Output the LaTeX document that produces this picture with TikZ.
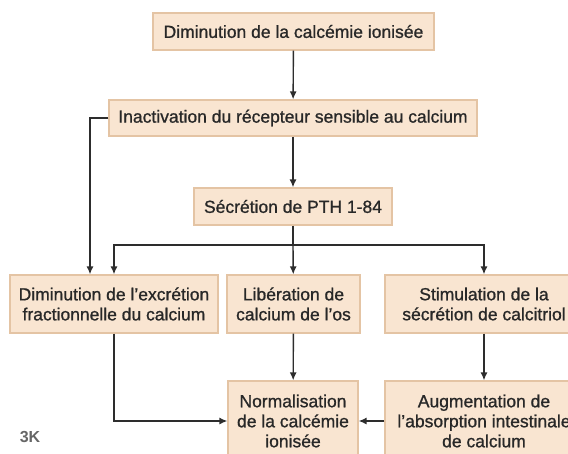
\documentclass[tikz,border=0pt]{standalone}
\usepackage{fontspec}
\setmainfont{Liberation Sans}
\usetikzlibrary{arrows.meta}
\definecolor{boxfill}{RGB}{249,229,209}
\definecolor{boxline}{RGB}{228,196,164}
\definecolor{linegray}{RGB}{45,45,45}
\definecolor{textgray}{RGB}{40,40,40}

\begin{document}
\begin{tikzpicture}[x=1pt, y=-1pt,
    box/.style = {draw = boxline, fill = boxfill, line width = 1.2pt, align = center, text = textgray,
                  inner sep = 0pt, font = \fontsize{17.5}{20}\selectfont\addfontfeature{FakeBold=1}},
    link/.style = {draw = linegray, line width = 1.4pt, -{Latex[length = 8pt, width = 7pt]}}]%
    \useasboundingbox (0, 0) rectangle (568, 453);
    \clip (0, 0) rectangle (568, 453);
    \node[box, minimum width = 281, minimum height = 37] (baisse) at (293.5, 31.5) {Diminution de la calcémie ionisée};
    \node[box, minimum width = 368, minimum height = 36] (inact) at (293, 118) {Inactivation du récepteur sensible au calcium};
    \node[box, minimum width = 198, minimum height = 37] (pth) at (293, 206.5) {Sécrétion de PTH 1-84};
    \coordinate (fork) at (293, 245);
    \node[box, minimum width = 208, minimum height = 58] (excr) at (114, 304) {Diminution de l'excrétion\\fractionnelle du calcium};
    \node[box, minimum width = 133, minimum height = 58] (os) at (293.5, 304) {Libération de\\calcium de l'os};
    \node[box, minimum width = 198, minimum height = 58] (calcitriol) at (484, 304) {Stimulation de la\\sécrétion de calcitriol};
    \node[box, minimum width = 130, minimum height = 80] (norm) at (293, 421) {Normalisation\\de la calcémie\\ionisée};
    \node[box, minimum width = 198, minimum height = 80] (absorp) at (484, 421) {Augmentation de\\l'absorption intestinale\\de calcium};
    \node[text = gray!80!black, font = \fontsize{16}{16}\selectfont\bfseries] (logo) at (30, 437) {3K};

    \draw[link] (baisse) -- (inact);
    \draw[link] (inact) -- (pth);
    \draw[link] (inact.west) -| ([xshift = -24pt]excr.north);
    \draw[draw = linegray, line width = 1.4pt] (pth) -- (fork);
    \draw[link] (fork) -| (excr);
    \draw[link] (fork) -- (os);
    \draw[link] (fork) -| (calcitriol);
    \draw[link] (excr) |- (norm);
    \draw[link] (os) -- (norm);
    \draw[link] (calcitriol) -- (absorp);
    \draw[link] (absorp) -- (norm);
\end{tikzpicture}
\end{document}
